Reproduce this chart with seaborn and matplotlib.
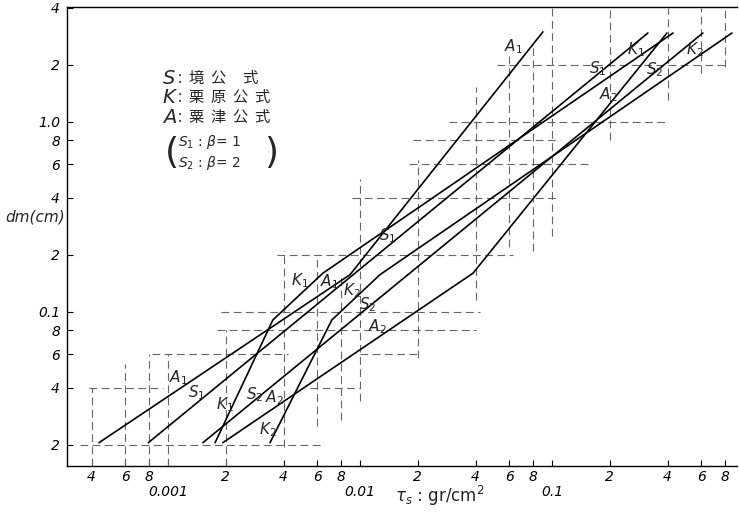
import matplotlib
matplotlib.use("Agg")
import matplotlib.pyplot as plt
import matplotlib.ticker as mticker
import pandas as pd
import seaborn as sns

# break points of each curve: tractive force tau_s (gr/cm2) and dm (cm)
S1_tau = [0.00079, 0.316]
S1_dm = [0.0205, 2.94]
S2_tau = [0.00152, 0.611]
S2_dm = [0.0205, 2.94]
K1_tau = [0.00176, 0.00352, 0.00641, 0.427]
K1_dm = [0.0205, 0.0908, 0.160, 2.94]
K2_tau = [0.0034, 0.00714, 0.0127, 0.866]
K2_dm = [0.0205, 0.0908, 0.157, 2.94]
A1_tau = [0.000437, 0.00887, 0.0897]
A1_dm = [0.0205, 0.157, 2.98]
A2_tau = [0.00193, 0.0388, 0.397]
A2_dm = [0.0205, 0.160, 2.94]

# dashed cross marks of the sheet (horizontal pieces)
hseg_dm = [0.02, 0.04, 0.04, 0.06, 0.06, 0.08, 0.1, 0.2, 0.4, 0.6, 0.8, 1.0, 2.0]
hseg_tau0 = [0.00035, 0.00039, 0.0055, 0.00083, 0.01, 0.0018, 0.0019, 0.0037, 0.0091, 0.018, 0.019, 0.029, 0.052]
hseg_tau1 = [0.0064, 0.00094, 0.01, 0.0042, 0.02, 0.04, 0.042, 0.063, 0.106, 0.16, 0.11, 0.39, 0.81]
# vertical pieces
vseg_tau = [0.0004, 0.0006, 0.0008, 0.001, 0.002, 0.004, 0.006, 0.008, 0.01, 0.02,
            0.04, 0.06, 0.08, 0.1, 0.2, 0.4, 0.6, 0.8]
vseg_dm0 = [0.0155, 0.0155, 0.0155, 0.0155, 0.0155, 0.0195, 0.025, 0.027, 0.034, 0.057,
            0.116, 0.22, 0.21, 0.25, 0.8, 1.3, 1.8, 1.95]
vseg_dm1 = [0.04, 0.053, 0.06, 0.06, 0.08, 0.21, 0.2, 0.153, 0.5, 0.63,
            1.53, 2.3, 2.5, 4.0, 4.0, 4.0, 4.0, 4.0]

x_major = [0.001, 0.01, 0.1]
x_major_labels = ["0.001", "0.01", "0.1"]
x_minor = [0.0004, 0.0006, 0.0008, 0.002, 0.004, 0.006, 0.008, 0.02, 0.04, 0.06, 0.08,
           0.2, 0.4, 0.6, 0.8]
x_minor_labels = ["4", "6", "8", "2", "4", "6", "8", "2", "4", "6", "8", "2", "4", "6", "8"]
y_major = [0.1, 1.0]
y_major_labels = ["0.1", "1.0"]
y_minor = [0.02, 0.04, 0.06, 0.08, 0.2, 0.4, 0.6, 0.8, 2, 4]
y_minor_labels = ["2", "4", "6", "8", "2", "4", "6", "8", "2", "4"]

legend_keys = ["S", "K", "A"]
legend_names = ["境  公     式", "栗  原  公  式", "粟  津  公  式"]


def main():
    curves = {"S1": (S1_tau, S1_dm), "S2": (S2_tau, S2_dm),
              "K1": (K1_tau, K1_dm), "K2": (K2_tau, K2_dm),
              "A1": (A1_tau, A1_dm), "A2": (A2_tau, A2_dm)}
    rows = []
    for name, (taus, dms) in curves.items():
        for t, d in zip(taus, dms):
            rows.append({"curve": name, "tau": t, "dm": d})
    df = pd.DataFrame(rows)

    sns.set_theme(style="white")
    cjk = ["Noto Sans CJK JP", "DejaVu Sans"]
    plt.rcParams["font.family"] = ["DejaVu Sans", "Noto Sans CJK JP"]
    plt.rcParams["mathtext.fontset"] = "dejavusans"

    fig = plt.figure(figsize=(7.39, 5.12), dpi=100)
    ax = fig.add_axes([67 / 739, 46 / 512, 670 / 739, 459 / 512])
    ax.set_xscale("log")
    ax.set_yscale("log")

    ax.hlines(hseg_dm, hseg_tau0, hseg_tau1, colors="#666666", linestyles=(0, (7, 4)), lw=0.8)
    ax.vlines(vseg_tau, vseg_dm0, vseg_dm1, colors="#666666", linestyles=(0, (7, 4)), lw=0.8)

    sns.lineplot(data=df, x="tau", y="dm", hue="curve", estimator=None, sort=False,
                 palette=["black"] * 6, legend=False, lw=1.2, ax=ax)

    ax.set_xlim(0.000298, 0.92)
    ax.set_ylim(0.01546, 4.03)

    # curve tags
    tags = [("A_1", 0.0627, 2.48), ("S_1", 0.174, 1.92), ("K_1", 0.274, 2.39),
            ("S_2", 0.343, 1.88), ("K_2", 0.556, 2.39), ("A_2", 0.196, 1.39),
            ("S_1", 0.0140, 0.251), ("K_1", 0.00487, 0.147), ("A_1", 0.00698, 0.144),
            ("K_2", 0.00908, 0.130), ("S_2", 0.0110, 0.109), ("A_2", 0.0123, 0.0834),
            ("A_1", 0.00113, 0.045), ("S_1", 0.00142, 0.0375), ("K_1", 0.00198, 0.0324),
            ("S_2", 0.00284, 0.0366), ("A_2", 0.0036, 0.0353), ("K_2", 0.0033, 0.0239)]
    for t, x, y in tags:
        ax.text(x, y, f"${t}$", fontsize=11, ha="center", va="center")

    # legend block
    for i, (key, name) in enumerate(zip(legend_keys, legend_names)):
        yy = 0.845 - i * 0.043
        ax.text(0.143, yy, key, transform=ax.transAxes, fontsize=14,
                fontstyle="italic", va="center")
        ax.text(0.166, yy, ":  " + name, transform=ax.transAxes, fontsize=11,
                family=cjk, va="center")
    ax.text(0.146, 0.683, "(", transform=ax.transAxes, fontsize=26, va="center")
    ax.text(0.295, 0.683, ")", transform=ax.transAxes, fontsize=26, va="center")
    ax.text(0.165, 0.705, r"$S_1$ : $\beta$= 1", transform=ax.transAxes, fontsize=10, va="center")
    ax.text(0.165, 0.660, r"$S_2$ : $\beta$= 2", transform=ax.transAxes, fontsize=10, va="center")

    ax.xaxis.set_major_locator(mticker.FixedLocator(x_major))
    ax.xaxis.set_major_formatter(mticker.FixedFormatter(x_major_labels))
    ax.xaxis.set_minor_locator(mticker.FixedLocator(x_minor))
    ax.xaxis.set_minor_formatter(mticker.FixedFormatter(x_minor_labels))
    ax.yaxis.set_major_locator(mticker.FixedLocator(y_major))
    ax.yaxis.set_major_formatter(mticker.FixedFormatter(y_major_labels))
    ax.yaxis.set_minor_locator(mticker.FixedLocator(y_minor))
    ax.yaxis.set_minor_formatter(mticker.FixedFormatter(y_minor_labels))

    ax.tick_params(axis="both", which="both", direction="in", length=4, width=0.8,
                   colors="black", labelsize=10, bottom=True, left=True)
    ax.tick_params(axis="x", which="major", pad=14)
    ax.tick_params(axis="x", which="minor", pad=3)
    ax.tick_params(axis="y", which="both", pad=5)
    for lab in ax.get_xticklabels(which="both") + ax.get_yticklabels(which="both"):
        lab.set_fontstyle("italic")

    for side in ["left", "bottom", "top"]:
        ax.spines[side].set_color("black")
        ax.spines[side].set_linewidth(1.0)
    ax.spines["right"].set_visible(False)

    ax.set_xlabel(r"$\tau_s$ : gr/cm$^2$", fontsize=12)
    ax.xaxis.set_label_coords(0.557, -0.04)
    ax.set_ylabel("dm(cm)", fontsize=11, rotation=0, fontstyle="italic", va="center")
    ax.yaxis.set_label_coords(-0.048, 0.543)

    fig.savefig("out.png", dpi=100)


if __name__ == "__main__":
    main()
